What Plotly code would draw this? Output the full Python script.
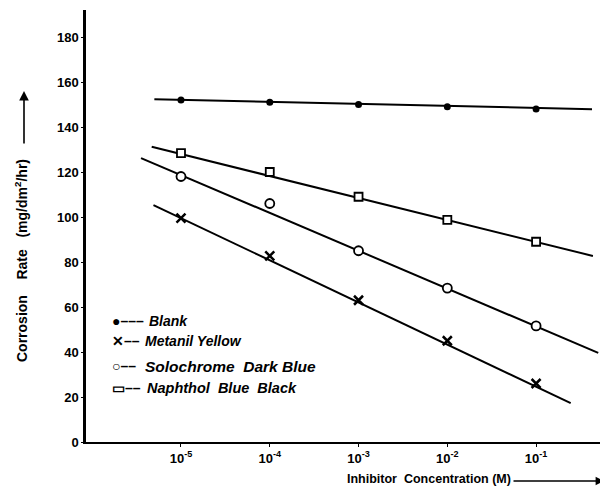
import plotly.graph_objects as go

# Inhibitor concentrations (M)
concentration = [1e-5, 1e-4, 1e-3, 1e-2, 1e-1]

# Corrosion rate (mg/dm^2/hr)
blank = [152, 151, 150, 149, 148]
metanil_yellow = [99.5, 82.7, 63, 45, 26]
solochrome_dark_blue = [118, 106, 85, 68.4, 51.6]
naphthol_blue_black = [128.4, 120, 109, 98.7, 89]

# Drawn straight lines (end values of each fitted line)
blank_fit_x = [10**-5.30, 10**-0.37]
blank_fit_y = [152.3, 147.9]
metanil_fit_x = [10**-5.31, 10**-0.61]
metanil_fit_y = [105.3, 17.3]
solochrome_fit_x = [10**-5.45, 10**-0.30]
solochrome_fit_y = [126.2, 39.6]
naphthol_fit_x = [10**-5.33, 10**-0.36]
naphthol_fit_y = [131.2, 82.7]

x_tick_vals = [1e-5, 1e-4, 1e-3, 1e-2, 1e-1]
x_tick_text = ["10<sup>-5</sup>", "10<sup>-4</sup>", "10<sup>-3</sup>", "10<sup>-2</sup>", "10<sup>-1</sup>"]
y_tick_vals = [0, 20, 40, 60, 80, 100, 120, 140, 160, 180]

legend_keys = ["●–––", "✕––", "○––", "▭––"]
legend_names = ["Blank", "Metanil Yellow", "Solochrome  Dark Blue", "Naphthol  Blue  Black"]

FONT = "Liberation Sans, Arial, sans-serif"

# page has an 8px body margin; plot area on page spans x 86..608, y 10..442
W, H = 600, 483
PL, PT, PW, PH = 78, 2, 522, 432


def px(xp):
    return (xp - 86) / PW


def py(yp):
    return (442 - yp) / PH


fig = go.Figure()

for fx, fy in [(blank_fit_x, blank_fit_y), (metanil_fit_x, metanil_fit_y),
               (solochrome_fit_x, solochrome_fit_y), (naphthol_fit_x, naphthol_fit_y)]:
    fig.add_trace(go.Scatter(x=fx, y=fy, mode="lines",
                             line=dict(color="black", width=2), showlegend=False,
                             hoverinfo="skip"))

fig.add_trace(go.Scatter(x=concentration, y=blank, mode="markers", name="Blank",
                         marker=dict(symbol="circle", size=7, color="black"), showlegend=False))
fig.add_trace(go.Scatter(x=concentration, y=metanil_yellow, mode="markers", name="Metanil Yellow",
                         marker=dict(symbol="x-thin", size=9, line=dict(color="black", width=2.5)),
                         showlegend=False))
fig.add_trace(go.Scatter(x=concentration, y=solochrome_dark_blue, mode="markers", name="Solochrome Dark Blue",
                         marker=dict(symbol="circle", size=9, color="white",
                                     line=dict(color="black", width=1.8)), showlegend=False))
fig.add_trace(go.Scatter(x=concentration, y=naphthol_blue_black, mode="markers", name="Naphthol Blue Black",
                         marker=dict(symbol="square", size=8, color="white",
                                     line=dict(color="black", width=1.8)), showlegend=False))

legend_y = [321, 341, 366, 388]
legend_text_x = [147, 143, 143, 145]
legend_size = [14, 14, 15.5, 14.5]
annotations = []
for key, name, yp, tx, fs in zip(legend_keys, legend_names, legend_y, legend_text_x, legend_size):
    annotations.append(dict(text=key, xref="paper", yref="paper",
                            x=px(110), y=py(yp), xanchor="left", yanchor="middle",
                            showarrow=False,
                            font=dict(family=FONT, size=14, color="black", weight="bold")))
    annotations.append(dict(text="<i>" + name + "</i>", xref="paper", yref="paper",
                            x=px(tx), y=py(yp), xanchor="left", yanchor="middle",
                            showarrow=False,
                            font=dict(family=FONT, size=fs, color="black", weight="bold")))

# y-axis title and arrow
annotations.append(dict(text="Corrosion    Rate   (mg/dm<sup>2</sup>/hr)",
                        xref="paper", yref="paper", x=px(21), y=py(261),
                        xanchor="center", yanchor="middle", textangle=-90, showarrow=False,
                        font=dict(family=FONT, size=14, color="black", weight="bold")))
annotations.append(dict(text="", xref="paper", yref="paper", x=px(24), y=py(91),
                        ax=0, ay=54, showarrow=True, arrowhead=2, arrowsize=1.2,
                        arrowwidth=1.6, arrowcolor="black"))
# x-axis title and arrow
annotations.append(dict(text="Inhibitor  Concentration (M)",
                        xref="paper", yref="paper", x=px(345), y=py(479),
                        xanchor="left", yanchor="middle", showarrow=False,
                        font=dict(family=FONT, size=12.5, color="black", weight="bold")))
annotations.append(dict(text="", xref="paper", yref="paper", x=px(604), y=py(481),
                        ax=-92, ay=0, showarrow=True, arrowhead=2, arrowsize=1.2,
                        arrowwidth=1.4, arrowcolor="black"))

fig.update_layout(
    width=W, height=H,
    margin=dict(l=PL, r=W - PL - PW, t=PT, b=H - PT - PH, autoexpand=False),
    paper_bgcolor="white", plot_bgcolor="white",
    font=dict(family=FONT, color="black"),
    annotations=annotations,
    xaxis=dict(type="log", range=[-6.07, -0.19], showline=True, linecolor="black", linewidth=2,
               tickvals=x_tick_vals, ticktext=x_tick_text, ticks="outside", ticklen=3,
               tickcolor="black", tickfont=dict(size=13, family=FONT, weight="bold"),
               showgrid=False, zeroline=False, automargin=False),
    yaxis=dict(range=[0, 192], showline=True, linecolor="black", linewidth=2.5,
               tickvals=y_tick_vals, ticks="outside", ticklen=2, tickcolor="black",
               tickfont=dict(size=13, family=FONT, weight="bold"), showgrid=False,
               zeroline=False, automargin=False),
)

fig.write_html("out.html")
